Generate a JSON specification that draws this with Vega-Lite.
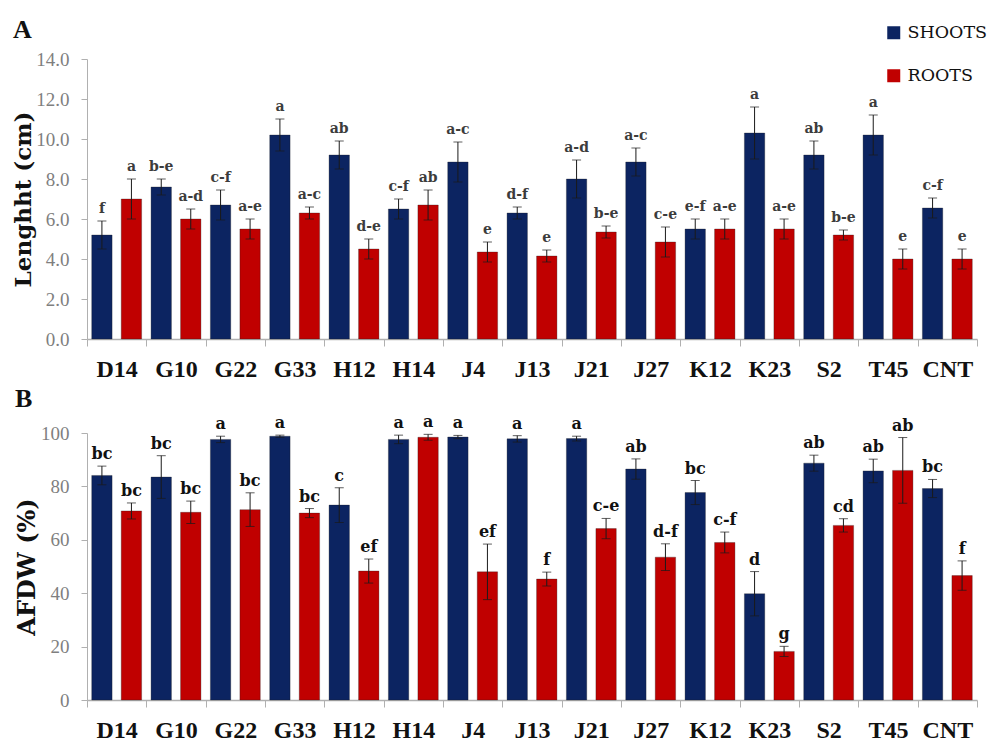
{
  "$schema": "https://vega.github.io/schema/vega-lite/v6.json",
  "background": "white",
  "padding": {"left": 12, "top": 17, "right": 0, "bottom": 0},
  "config": {
    "view": {"stroke": null},
    "axis": {"grid": false, "domainColor": "#b0b0b0", "tickColor": "#b0b0b0", "labelColor": "#7f7f7f", "labelFont": "Liberation Serif", "labelFontSize": 19, "titleFont": "DejaVu Serif", "titleFontWeight": "bold", "titleFontSize": 23, "titleColor": "#111111", "labelOverlap": false},
    "axisX": {"labelFont": "Liberation Serif", "labelFontWeight": "bold", "labelFontSize": 24, "labelColor": "#111111", "labelAngle": 0, "tickBand": "extent", "tickSize": 7, "labelPadding": 11, "title": null, "domainWidth": 1.5},
    "axisY": {"tickSize": 6, "labelPadding": 12, "domainWidth": 1},
    "title": {"font": "Liberation Serif", "fontWeight": "bold", "fontSize": 26, "color": "#111111", "anchor": "start", "frame": "group"}
  },
  "data": {"values": [
    {"strain": "D14", "part": "SHOOTS", "len": 5.2, "len_lo": 4.5, "len_hi": 5.9, "len_sig": "f", "afdw": 84.1, "afdw_lo": 80.6, "afdw_hi": 87.6, "afdw_sig": "bc"},
    {"strain": "D14", "part": "ROOTS", "len": 7.0, "len_lo": 6.0, "len_hi": 8.0, "len_sig": "a", "afdw": 70.8, "afdw_lo": 67.8, "afdw_hi": 73.8, "afdw_sig": "bc"},
    {"strain": "G10", "part": "SHOOTS", "len": 7.6, "len_lo": 7.2, "len_hi": 8.0, "len_sig": "b-e", "afdw": 83.5, "afdw_lo": 75.5, "afdw_hi": 91.5, "afdw_sig": "bc"},
    {"strain": "G10", "part": "ROOTS", "len": 6.0, "len_lo": 5.5, "len_hi": 6.5, "len_sig": "a-d", "afdw": 70.3, "afdw_lo": 66.1, "afdw_hi": 74.5, "afdw_sig": "bc"},
    {"strain": "G22", "part": "SHOOTS", "len": 6.7, "len_lo": 5.95, "len_hi": 7.45, "len_sig": "c-f", "afdw": 97.6, "afdw_lo": 96.4, "afdw_hi": 98.8, "afdw_sig": "a"},
    {"strain": "G22", "part": "ROOTS", "len": 5.5, "len_lo": 5.0, "len_hi": 6.0, "len_sig": "a-e", "afdw": 71.3, "afdw_lo": 65.0, "afdw_hi": 77.6, "afdw_sig": "bc"},
    {"strain": "G33", "part": "SHOOTS", "len": 10.2, "len_lo": 9.4, "len_hi": 11.0, "len_sig": "a", "afdw": 98.8, "afdw_lo": 98.4, "afdw_hi": 99.2, "afdw_sig": "a"},
    {"strain": "G33", "part": "ROOTS", "len": 6.3, "len_lo": 6.0, "len_hi": 6.6, "len_sig": "a-c", "afdw": 70.0, "afdw_lo": 68.3, "afdw_hi": 71.7, "afdw_sig": "bc"},
    {"strain": "H12", "part": "SHOOTS", "len": 9.2, "len_lo": 8.5, "len_hi": 9.9, "len_sig": "ab", "afdw": 73.0, "afdw_lo": 66.5, "afdw_hi": 79.5, "afdw_sig": "c"},
    {"strain": "H12", "part": "ROOTS", "len": 4.5, "len_lo": 4.0, "len_hi": 5.0, "len_sig": "d-e", "afdw": 48.3, "afdw_lo": 43.8, "afdw_hi": 52.8, "afdw_sig": "ef"},
    {"strain": "H14", "part": "SHOOTS", "len": 6.5, "len_lo": 6.0, "len_hi": 7.0, "len_sig": "c-f", "afdw": 97.6, "afdw_lo": 96.0, "afdw_hi": 99.2, "afdw_sig": "a"},
    {"strain": "H14", "part": "ROOTS", "len": 6.7, "len_lo": 5.95, "len_hi": 7.45, "len_sig": "ab", "afdw": 98.4, "afdw_lo": 97.3, "afdw_hi": 99.5, "afdw_sig": "a"},
    {"strain": "J4", "part": "SHOOTS", "len": 8.85, "len_lo": 7.85, "len_hi": 9.85, "len_sig": "a-c", "afdw": 98.5, "afdw_lo": 97.9, "afdw_hi": 99.1, "afdw_sig": "a"},
    {"strain": "J4", "part": "ROOTS", "len": 4.35, "len_lo": 3.85, "len_hi": 4.85, "len_sig": "e", "afdw": 48.0, "afdw_lo": 37.6, "afdw_hi": 58.4, "afdw_sig": "ef"},
    {"strain": "J13", "part": "SHOOTS", "len": 6.3, "len_lo": 6.0, "len_hi": 6.6, "len_sig": "d-f", "afdw": 97.8, "afdw_lo": 96.6, "afdw_hi": 99.0, "afdw_sig": "a"},
    {"strain": "J13", "part": "ROOTS", "len": 4.15, "len_lo": 3.85, "len_hi": 4.45, "len_sig": "e", "afdw": 45.3, "afdw_lo": 42.7, "afdw_hi": 47.9, "afdw_sig": "f"},
    {"strain": "J21", "part": "SHOOTS", "len": 8.0, "len_lo": 7.05, "len_hi": 8.95, "len_sig": "a-d", "afdw": 97.9, "afdw_lo": 97.0, "afdw_hi": 98.8, "afdw_sig": "a"},
    {"strain": "J21", "part": "ROOTS", "len": 5.35, "len_lo": 5.05, "len_hi": 5.65, "len_sig": "b-e", "afdw": 64.2, "afdw_lo": 60.4, "afdw_hi": 68.0, "afdw_sig": "c-e"},
    {"strain": "J27", "part": "SHOOTS", "len": 8.85, "len_lo": 8.15, "len_hi": 9.55, "len_sig": "a-c", "afdw": 86.5, "afdw_lo": 82.7, "afdw_hi": 90.3, "afdw_sig": "ab"},
    {"strain": "J27", "part": "ROOTS", "len": 4.85, "len_lo": 4.1, "len_hi": 5.6, "len_sig": "c-e", "afdw": 53.5, "afdw_lo": 48.5, "afdw_hi": 58.5, "afdw_sig": "d-f"},
    {"strain": "K12", "part": "SHOOTS", "len": 5.5, "len_lo": 5.0, "len_hi": 6.0, "len_sig": "e-f", "afdw": 77.7, "afdw_lo": 73.2, "afdw_hi": 82.2, "afdw_sig": "bc"},
    {"strain": "K12", "part": "ROOTS", "len": 5.5, "len_lo": 5.0, "len_hi": 6.0, "len_sig": "a-e", "afdw": 59.0, "afdw_lo": 55.1, "afdw_hi": 62.9, "afdw_sig": "c-f"},
    {"strain": "K23", "part": "SHOOTS", "len": 10.3, "len_lo": 9.0, "len_hi": 11.6, "len_sig": "a", "afdw": 39.8, "afdw_lo": 31.5, "afdw_hi": 48.1, "afdw_sig": "d"},
    {"strain": "K23", "part": "ROOTS", "len": 5.5, "len_lo": 5.0, "len_hi": 6.0, "len_sig": "a-e", "afdw": 18.2, "afdw_lo": 16.3, "afdw_hi": 20.1, "afdw_sig": "g"},
    {"strain": "S2", "part": "SHOOTS", "len": 9.2, "len_lo": 8.5, "len_hi": 9.9, "len_sig": "ab", "afdw": 88.7, "afdw_lo": 85.7, "afdw_hi": 91.7, "afdw_sig": "ab"},
    {"strain": "S2", "part": "ROOTS", "len": 5.2, "len_lo": 4.95, "len_hi": 5.45, "len_sig": "b-e", "afdw": 65.4, "afdw_lo": 62.9, "afdw_hi": 67.9, "afdw_sig": "cd"},
    {"strain": "T45", "part": "SHOOTS", "len": 10.2, "len_lo": 9.2, "len_hi": 11.2, "len_sig": "a", "afdw": 85.8, "afdw_lo": 81.4, "afdw_hi": 90.2, "afdw_sig": "ab"},
    {"strain": "T45", "part": "ROOTS", "len": 4.0, "len_lo": 3.5, "len_hi": 4.5, "len_sig": "e", "afdw": 86.0, "afdw_lo": 73.7, "afdw_hi": 98.3, "afdw_sig": "ab"},
    {"strain": "CNT", "part": "SHOOTS", "len": 6.55, "len_lo": 6.05, "len_hi": 7.05, "len_sig": "c-f", "afdw": 79.2, "afdw_lo": 75.8, "afdw_hi": 82.6, "afdw_sig": "bc"},
    {"strain": "CNT", "part": "ROOTS", "len": 4.0, "len_lo": 3.5, "len_hi": 4.5, "len_sig": "e", "afdw": 46.6, "afdw_lo": 41.1, "afdw_hi": 52.1, "afdw_sig": "f"}
  ]},
  "bounds": "flush",
  "spacing": 94,
  "resolve": {"legend": {"color": "independent"}},
  "vconcat": [
    {
      "width": 890,
      "height": 280,
      "title": {"text": "A", "dx": -74, "offset": -19},
      "encoding": {
        "x": {"field": "strain", "type": "nominal", "sort": null, "scale": {"paddingInner": 0, "paddingOuter": 0}, "axis": {"title": null}},
        "xOffset": {"field": "part", "type": "nominal", "sort": ["SHOOTS", "ROOTS"], "scale": {"paddingInner": 0.31, "paddingOuter": 0.16}}
      },
      "layer": [
        {
          "mark": {"type": "bar", "stroke": "#1a1a1a", "strokeWidth": 0.6, "strokeOpacity": 0.5},
          "encoding": {
            "y": {"field": "len", "type": "quantitative", "scale": {"domain": [0, 14], "nice": false}, "axis": {"title": "Lenghht (cm)", "values": [0, 2, 4, 6, 8, 10, 12, 14], "tickCount": 8, "format": ".1f", "titlePadding": 0}},
            "color": {"field": "part", "type": "nominal", "sort": ["SHOOTS", "ROOTS"], "scale": {"domain": ["SHOOTS", "ROOTS"], "range": ["#0c2461", "#c00000"]},
              "legend": {"title": null, "orient": "none", "legendX": 798, "legendY": -35, "symbolType": "square", "symbolSize": 169, "symbolStrokeWidth": 0, "labelFont": "DejaVu Serif", "labelFontSize": 17.5, "labelColor": "#111111", "rowPadding": 24, "padding": 0, "labelOffset": 5}}
          }
        },
        {"mark": {"type": "rule", "color": "#1a1a1a", "strokeWidth": 1}, "encoding": {"y": {"field": "len_lo", "type": "quantitative", "axis": {"title": "Lenghht (cm)", "values": [0, 2, 4, 6, 8, 10, 12, 14], "tickCount": 8, "format": ".1f", "titlePadding": 0}}, "y2": {"field": "len_hi"}}},
        {"mark": {"type": "tick", "color": "#1a1a1a", "size": 9, "thickness": 1}, "encoding": {"y": {"field": "len_hi", "type": "quantitative", "axis": {"title": "Lenghht (cm)", "values": [0, 2, 4, 6, 8, 10, 12, 14], "tickCount": 8, "format": ".1f", "titlePadding": 0}}}},
        {"mark": {"type": "tick", "color": "#1a1a1a", "size": 9, "thickness": 1}, "encoding": {"y": {"field": "len_lo", "type": "quantitative", "axis": {"title": "Lenghht (cm)", "values": [0, 2, 4, 6, 8, 10, 12, 14], "tickCount": 8, "format": ".1f", "titlePadding": 0}}}},
        {"mark": {"type": "text", "font": "DejaVu Serif", "fontWeight": "bold", "fontSize": 14, "color": "#3c3c3c", "baseline": "alphabetic", "dy": -8}, "encoding": {"y": {"field": "len_hi", "type": "quantitative", "axis": {"title": "Lenghht (cm)", "values": [0, 2, 4, 6, 8, 10, 12, 14], "tickCount": 8, "format": ".1f", "titlePadding": 0}}, "text": {"field": "len_sig"}}}
      ]
    },
    {
      "width": 890,
      "height": 267,
      "title": {"text": "B", "dx": -72, "offset": 2},
      "encoding": {
        "x": {"field": "strain", "type": "nominal", "sort": null, "scale": {"paddingInner": 0, "paddingOuter": 0}, "axis": {"title": null}},
        "xOffset": {"field": "part", "type": "nominal", "sort": ["SHOOTS", "ROOTS"], "scale": {"paddingInner": 0.31, "paddingOuter": 0.16}}
      },
      "layer": [
        {
          "mark": {"type": "bar", "stroke": "#1a1a1a", "strokeWidth": 0.6, "strokeOpacity": 0.5},
          "encoding": {
            "y": {"field": "afdw", "type": "quantitative", "scale": {"domain": [0, 100]}, "axis": {"title": "AFDW (%)", "values": [0, 20, 40, 60, 80, 100], "titlePadding": 1, "titleFontSize": 24}},
            "color": {"field": "part", "type": "nominal", "sort": ["SHOOTS", "ROOTS"], "scale": {"domain": ["SHOOTS", "ROOTS"], "range": ["#0c2461", "#c00000"]}, "legend": null}
          }
        },
        {"mark": {"type": "rule", "color": "#1a1a1a", "strokeWidth": 1}, "encoding": {"y": {"field": "afdw_lo", "type": "quantitative", "axis": {"title": "AFDW (%)", "values": [0, 20, 40, 60, 80, 100], "titlePadding": 1, "titleFontSize": 24}}, "y2": {"field": "afdw_hi"}}},
        {"mark": {"type": "tick", "color": "#1a1a1a", "size": 9, "thickness": 1}, "encoding": {"y": {"field": "afdw_hi", "type": "quantitative", "axis": {"title": "AFDW (%)", "values": [0, 20, 40, 60, 80, 100], "titlePadding": 1, "titleFontSize": 24}}}},
        {"mark": {"type": "tick", "color": "#1a1a1a", "size": 9, "thickness": 1}, "encoding": {"y": {"field": "afdw_lo", "type": "quantitative", "axis": {"title": "AFDW (%)", "values": [0, 20, 40, 60, 80, 100], "titlePadding": 1, "titleFontSize": 24}}}},
        {"mark": {"type": "text", "font": "DejaVu Serif", "fontWeight": "bold", "fontSize": 16, "color": "#111111", "baseline": "alphabetic", "dy": -7}, "encoding": {"y": {"field": "afdw_hi", "type": "quantitative", "axis": {"title": "AFDW (%)", "values": [0, 20, 40, 60, 80, 100], "titlePadding": 1, "titleFontSize": 24}}, "text": {"field": "afdw_sig"}}}
      ]
    }
  ]
}
